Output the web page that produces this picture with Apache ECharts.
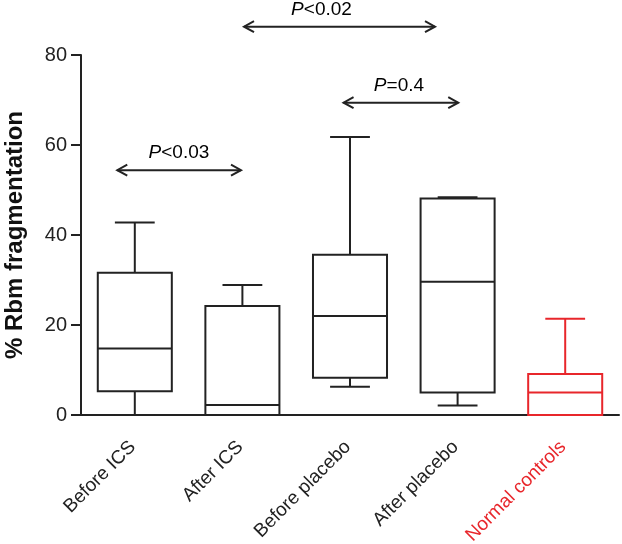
<!DOCTYPE html>
<html><head><meta charset="utf-8">
<script src="https://cdn.jsdelivr.net/npm/echarts@6/dist/echarts.min.js"></script>
<style>html,body{margin:0;padding:0;background:#fff}#c{width:622px;height:544px}</style>
</head><body><div id="c"></div>
<script>
var categories = ['Before ICS', 'After ICS', 'Before placebo', 'After placebo', 'Normal controls'];
var groupColors = ['#222', '#222', '#222', '#222', '#e8262b'];
// [min, Q1, median, Q3, max]
var boxValues = [
  [0, 5.3, 14.8, 31.6, 42.8],
  [0, 0, 2.2, 24.2, 28.9],
  [6.3, 8.3, 22.0, 35.6, 61.8],
  [2.1, 5.0, 29.6, 48.1, 48.4],
  [0, 0, 5.0, 9.1, 21.4]
];
var yMin = 0, yMax = 80, yStep = 20;
var compText = ['<0.03', '<0.02', '=0.4'];
var compStart = [-0.163, 1.015, 1.94];
var compEnd = [0.987, 2.79, 3.006];
var compY = [54.4, 86.3, 69.4];
var compTextX = [0.41, 1.735, 2.455];

var chart = echarts.init(document.getElementById('c'));
var font = 'Liberation Sans, Arial, sans-serif';
var boxData = boxValues.map(function (v, i) { return [i].concat(v); });
var compData = compText.map(function (t, i) { return [compStart[i], compEnd[i], compY[i], compTextX[i], i]; });

chart.setOption({
  animation: false,
  backgroundColor: '#fff',
  grid: { left: 81, right: 3, top: 55, bottom: 129, containLabel: false, outerBoundsMode: 'none' },
  xAxis: [{
    type: 'category', data: categories, boundaryGap: true,
    axisLine: { lineStyle: { color: '#222', width: 2 } },
    axisTick: { alignWithLabel: true, length: 11, lineStyle: { color: '#222', width: 2 } },
    axisLabel: {
      rotate: 45, margin: 27, fontSize: 19, fontFamily: font,
      padding: [0, 3, 0, 0],
      color: function (v, i) { return groupColors[i]; },
      interval: 0
    },
    splitLine: { show: false }
  }, {
    type: 'value', min: -0.5, max: 4.5, show: false
  }],
  yAxis: {
    type: 'value', min: yMin, max: yMax, interval: yStep,
    name: '% Rbm fragmentation', nameLocation: 'middle', nameGap: 54, nameRotate: 90,
    nameTextStyle: { fontSize: 24, fontWeight: 'bold', fontFamily: font, color: '#111' },
    axisLine: { show: true, onZero: false, lineStyle: { color: '#222', width: 2 } },
    axisTick: { show: true, length: 10, lineStyle: { color: '#222', width: 2 } },
    axisLabel: { fontSize: 20, fontFamily: font, color: '#222', margin: 14 },
    splitLine: { show: false }
  },
  series: [{
    type: 'custom', xAxisIndex: 0, silent: true,
    data: boxData,
    renderItem: function (params, api) {
      var i = api.value(0);
      var band = api.size([1, 0])[0];
      var hw = band * 0.344, cw = band * 0.185;
      var c = api.coord([i, 0])[0];
      var y = [1, 2, 3, 4, 5].map(function (d) { return api.coord([i, api.value(d)])[1]; });
      var st = { stroke: groupColors[i], lineWidth: 2, fill: null };
      return {
        type: 'group',
        children: [
          { type: 'line', shape: { x1: c, y1: y[0], x2: c, y2: y[1] }, style: st },
          { type: 'line', shape: { x1: c, y1: y[3], x2: c, y2: y[4] }, style: st },
          { type: 'line', shape: { x1: c - cw, y1: y[0], x2: c + cw, y2: y[0] }, style: st },
          { type: 'line', shape: { x1: c - cw, y1: y[4], x2: c + cw, y2: y[4] }, style: st },
          { type: 'rect', shape: { x: c - hw, y: y[3], width: 2 * hw, height: y[1] - y[3] }, style: { stroke: groupColors[i], lineWidth: 2, fill: '#fff' } },
          { type: 'line', shape: { x1: c - hw, y1: y[2], x2: c + hw, y2: y[2] }, style: st }
        ]
      };
    }
  }, {
    type: 'custom', xAxisIndex: 1, clip: false, silent: true,
    data: compData,
    renderItem: function (params, api) {
      var p0 = api.coord([api.value(0), api.value(2)]);
      var p1 = api.coord([api.value(1), api.value(2)]);
      var tx = api.coord([api.value(3), api.value(2)])[0];
      var idx = api.value(4);
      var st = { stroke: '#222', lineWidth: 2, fill: null };
      return {
        type: 'group',
        children: [
          { type: 'line', shape: { x1: p0[0], y1: p0[1], x2: p1[0], y2: p1[1] }, style: st },
          { type: 'polyline', shape: { points: [[p0[0] + 10, p0[1] - 5.5], [p0[0], p0[1]], [p0[0] + 10, p0[1] + 5.5]] }, style: st },
          { type: 'polyline', shape: { points: [[p1[0] - 10, p1[1] - 5.5], [p1[0], p1[1]], [p1[0] - 10, p1[1] + 5.5]] }, style: st },
          {
            type: 'text', x: tx, y: p0[1] - 17,
            style: {
              text: '{i|P}{n|' + compText[idx] + '}',
              align: 'center', verticalAlign: 'middle',
              rich: {
                i: { fontStyle: 'italic', fontSize: 19, fontFamily: font, color: '#222' },
                n: { fontSize: 19, fontFamily: font, color: '#222' }
              }
            }
          }
        ]
      };
    }
  }]
});
</script></body></html>
